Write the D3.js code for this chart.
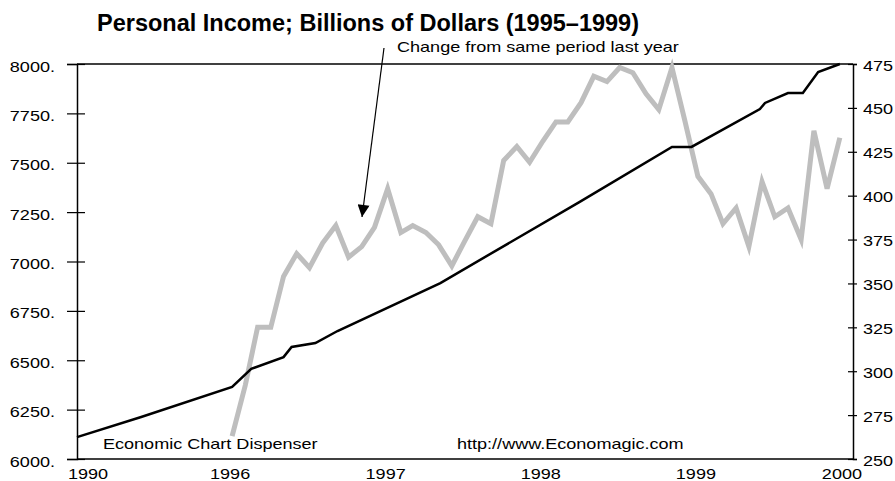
<!DOCTYPE html>
<html>
<head>
<meta charset="utf-8">
<script src="https://cdn.jsdelivr.net/npm/d3@7"></script>
<style>
  body { margin: 0; background: #fff; }
  text { font-family: "Liberation Sans", Arial, Helvetica, sans-serif; fill: #000; }
</style>
</head>
<body>
<div id="chart"></div>
<script>
// personal income, billions of dollars (left axis)
const incomeDates = ["1995-01-01", "1995-06-01", "1996-01-01", "1996-02-15", "1996-05-01",
  "1996-05-20", "1996-07-15", "1996-09-05", "1997-05-05", "1998-03-28", "1998-11-01",
  "1998-12-17", "1999-05-27", "1999-06-08", "1999-08-01", "1999-09-05", "1999-10-11", "1999-12-01"]
const incomeValues = [6111, 6213, 6365, 6456, 6516, 6567, 6587, 6648, 6891, 7301, 7580,
  7580, 7772, 7803, 7853, 7853, 7959, 8000]

// change from same period last year (right axis), monthly from Jan 1996
const changeStart = "1996-01-01"
const changeValues = [263, 292, 325, 325, 354, 367, 359, 373, 383, 365, 371, 382,
  404, 379, 383, 379, 372, 360, 374, 388, 384, 420, 428, 419,
  431, 442, 442, 453, 468, 465, 473, 470, 458, 449, 473, 443,
  411, 401, 384, 393, 371, 408, 388, 393, 375, 437, 404, 433]

const leftTicks = [6000, 6250, 6500, 6750, 7000, 7250, 7500, 7750, 8000]
const rightTicks = [250, 275, 300, 325, 350, 375, 400, 425, 450, 475]
const yearLabels = ["1990", "1996", "1997", "1998", "1999", "2000"]
const yearTicks = ["1995-01-01", "1996-01-01", "1997-01-01", "1998-01-01", "1999-01-01", "2000-01-01"]

const W = 895, H = 481
const margin = {top: 64, right: 42, bottom: 22, left: 77}
const width = W - margin.left - margin.right
const height = H - margin.top - margin.bottom
const SX = 1.29  // the small lettering is drawn wide

const parse = d3.timeParse("%Y-%m-%d")

const svg = d3.select("#chart").append("svg")
  .attr("width", W)
  .attr("height", H)

const g = svg.append("g")
  .attr("transform", `translate(${margin.left},${margin.top})`)

const x = d3.scaleTime()
  .domain([parse("1995-01-01"), parse("2000-01-01")])
  .range([0, width])
const yLeft = d3.scaleLinear().domain([6000, 8000]).range([height, 0])
const yRight = d3.scaleLinear().domain([250, 475]).range([height, 0])

const income = incomeDates.map((d, i) => ({date: parse(d), value: incomeValues[i]}))
const months = d3.timeMonth.range(parse(changeStart), parse("2000-01-01"))
const change = changeValues.map((v, i) => ({date: months[i], value: v}))

function wideText(sel, anchor) {
  sel.attr("text-anchor", anchor)
    .style("font-size", "14px")
    .attr("transform", function () {
      const t = d3.select(this)
      return `translate(${+t.attr("x") || 0},${+t.attr("y") || 0}) scale(${SX},1)`
    })
    .attr("x", 0).attr("y", 0)
}

// left axis
const left = g.append("g")
  .call(d3.axisLeft(yLeft).tickValues(leftTicks).tickSize(10).tickFormat(d => d + "."))
left.select(".domain").attr("stroke", "#000").attr("stroke-width", 1.5)
left.selectAll(".tick line").attr("x1", 8).attr("stroke-width", 1.2)
left.selectAll(".tick text").attr("x", -22).attr("y", 7).attr("dy", null)
  .call(wideText, "end")

// right axis
const right = g.append("g")
  .attr("transform", `translate(${width},0)`)
  .call(d3.axisRight(yRight).tickValues(rightTicks).tickSize(4))
right.select(".domain").attr("stroke", "#000").attr("stroke-width", 1.5)
right.selectAll(".tick line").attr("x1", -5).attr("stroke-width", 1.2)
right.selectAll(".tick text").attr("x", 10).attr("y", 6).attr("dy", null)
  .call(wideText, "start")

// top and bottom border
g.append("line").attr("x1", 0).attr("x2", width).attr("y1", 0).attr("y2", 0)
  .attr("stroke", "#000").attr("stroke-width", 1.5)
g.append("line").attr("x1", 0).attr("x2", width).attr("y1", height).attr("y2", height)
  .attr("stroke", "#000").attr("stroke-width", 1.5)

// year labels
g.selectAll(".year")
  .data(yearTicks)
  .join("text")
  .attr("class", "year")
  .attr("x", (d, i) => x(parse(d)) + (i === 0 ? -9 : i === yearTicks.length - 1 ? 9 : -2))
  .attr("y", height + 20)
  .text((d, i) => yearLabels[i])
  .call(wideText, "middle")
  .attr("text-anchor", (d, i) => i === 0 ? "start" : i === yearTicks.length - 1 ? "end" : "middle")

// grey change line
g.append("path")
  .datum(change)
  .attr("fill", "none")
  .attr("stroke", "#bebebe")
  .attr("stroke-width", 5)
  .attr("stroke-linejoin", "miter")
  .attr("d", d3.line().x(d => x(d.date)).y(d => yRight(d.value)))

// black income line
g.append("path")
  .datum(income)
  .attr("fill", "none")
  .attr("stroke", "#000")
  .attr("stroke-width", 2.5)
  .attr("d", d3.line().x(d => x(d.date)).y(d => yLeft(d.value)))

// title and notes
svg.append("text")
  .attr("x", 97).attr("y", 31)
  .style("font-size", "23.5px").style("font-weight", "bold")
  .text("Personal Income; Billions of Dollars (1995\u20131999)")

svg.append("text")
  .attr("x", 397).attr("y", 52)
  .text("Change from same period last year")
  .call(wideText, "start")

svg.append("text")
  .attr("x", 103).attr("y", 449)
  .text("Economic Chart Dispenser")
  .call(wideText, "start")

svg.append("text")
  .attr("x", 457).attr("y", 449)
  .text("http://www.Economagic.com")
  .call(wideText, "start")

// arrow pointing at the grey line
svg.append("defs").append("marker")
  .attr("id", "head")
  .attr("viewBox", "0 0 10 10")
  .attr("refX", 10).attr("refY", 5)
  .attr("markerUnits", "userSpaceOnUse")
  .attr("markerWidth", 22).attr("markerHeight", 12)
  .attr("orient", "auto")
  .append("path").attr("d", "M0,0L10,5L0,10z").attr("fill", "#000")

svg.append("line")
  .attr("x1", 384).attr("y1", 48)
  .attr("x2", 362).attr("y2", 217)
  .attr("stroke", "#000").attr("stroke-width", 1.2)
  .attr("marker-end", "url(#head)")
</script>
</body>
</html>
